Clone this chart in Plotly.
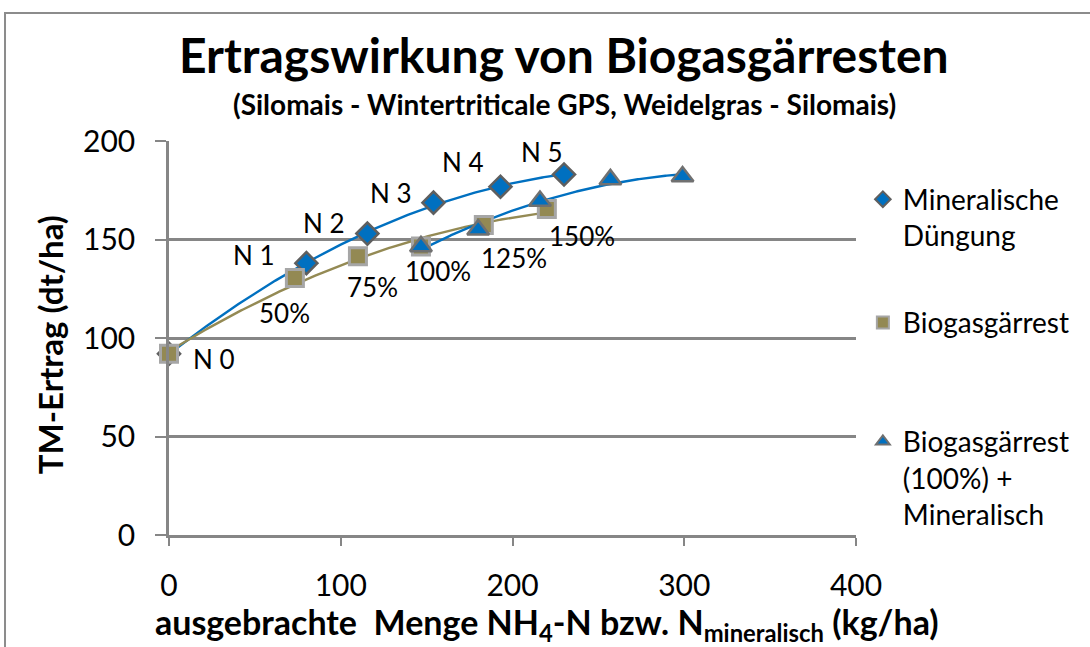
import numpy as np
import plotly.graph_objects as go

# ---- data ----
min_x = [0, 80, 115.5, 154, 193, 230]
min_y = [92, 138, 153, 168.7, 176.8, 183]
min_labels = ["N 0", "N 1", "N 2", "N 3", "N 4", "N 5"]

bio_x = [0, 73.3, 110, 146.7, 183.3, 220]
bio_y = [92, 130.5, 141.5, 146.5, 157.4, 165.5]
bio_labels = ["", "50%", "75%", "100%", "125%", "150%"]

mix_x = [146.7, 180, 216, 257, 299]
mix_y = [146.5, 155, 169.5, 180.5, 182]

series_names = ["Mineralische<br>Düngung", "Biogasgärrest", "Biogasgärrest<br>(100%) +<br>Mineralisch"]
x_ticks = [0, 100, 200, 300, 400]
y_ticks = [0, 50, 100, 150, 200]
x_title = "<b>ausgebrachte  Menge NH<sub>4</sub>-N bzw. N<sub>mineralisch</sub> (kg/ha)</b>"
y_title = "<b>TM-Ertrag (dt/ha)</b>"

# ---- style ----
FONT = "Lato, 'Open Sans', sans-serif"
BLUE = "#0070C0"
OLIVE = "#948A54"
GRAY = "#868686"

# label pixel offsets (style)
min_shift = [(45, -5), (-52, 8), (-43, 11), (-43, 10), (-37, 25), (-22, 22)]
bio_shift = [(0, 0), (-10, -35), (15, -31), (17, -25), (30, -33), (35, -27)]

fig = go.Figure()


def trend(xs, ys, color):
    c = np.polyfit(xs, ys, 2)
    xx = np.linspace(min(xs), max(xs), 200)
    fig.add_trace(go.Scatter(x=xx, y=np.polyval(c, xx), mode="lines",
                             line=dict(color=color, width=2.4),
                             showlegend=False, hoverinfo="skip"))


trend(min_x, min_y, BLUE)
trend(bio_x, bio_y, OLIVE)
trend(mix_x, mix_y, BLUE)

fig.add_trace(go.Scatter(x=min_x, y=min_y, mode="markers", name=series_names[0],
                         legend="legend", cliponaxis=False,
                         marker=dict(symbol="diamond", size=17, color=BLUE,
                                     line=dict(color="#5f5f5f", width=2.5))))
fig.add_trace(go.Scatter(x=bio_x, y=bio_y, mode="markers", name=series_names[1],
                         legend="legend2", cliponaxis=False,
                         marker=dict(symbol="square", size=17, color="#938953",
                                     line=dict(color="#A6A6A6", width=3))))
fig.add_trace(go.Scatter(x=mix_x, y=mix_y, mode="markers", name=series_names[2],
                         legend="legend3", cliponaxis=False,
                         marker=dict(symbol="triangle-up", size=19, color=BLUE,
                                     line=dict(color="#707070", width=2.5))))

annotations = []
for x, y, t, (dx, dy) in zip(min_x, min_y, min_labels, min_shift):
    annotations.append(dict(x=x, y=y, text=t, showarrow=False, xshift=dx, yshift=dy,
                            font=dict(family=FONT, size=26, color="black")))
for x, y, t, (dx, dy) in zip(bio_x, bio_y, bio_labels, bio_shift):
    if t:
        annotations.append(dict(x=x, y=y, text=t, showarrow=False, xshift=dx, yshift=dy,
                                font=dict(family=FONT, size=26, color="black")))

annotations.append(dict(xref="paper", yref="paper", x=0.575, y=1.0, yshift=117,
                        text="<b>Ertragswirkung von Biogasgärresten</b>", showarrow=False,
                        font=dict(family=FONT, size=48, color="black")))
annotations.append(dict(xref="paper", yref="paper", x=0.575, y=1.0, yshift=56,
                        text="<b>(Silomais - Wintertriticale GPS, Weidelgras - Silomais)</b>",
                        showarrow=False, font=dict(family=FONT, size=28, color="black")))
annotations.append(dict(xref="paper", yref="paper", x=0.550, y=-0.225,
                        xanchor="center", yanchor="middle",
                        text=x_title, showarrow=False,
                        font=dict(family=FONT, size=34, color="black")))
annotations.append(dict(xref="paper", yref="paper", x=-0.173, y=0.482, textangle=-90,
                        xanchor="center", yanchor="middle",
                        text=y_title, showarrow=False,
                        font=dict(family=FONT, size=33, color="black")))

leg_common = dict(x=1.01, xanchor="left", yanchor="top", valign="top",
                  font=dict(family=FONT, size=28, color="black"),
                  itemsizing="constant", bgcolor="rgba(0,0,0,0)")

fig.update_layout(
    width=1090, height=647, autosize=False,
    margin=dict(l=169, r=234, t=141, b=112),
    paper_bgcolor="white", plot_bgcolor="white",
    font=dict(family=FONT, color="black"),
    annotations=annotations,
    showlegend=True,
    legend=dict(y=0.915, **leg_common),
    legend2=dict(y=0.602, **leg_common),
    legend3=dict(y=0.300, **leg_common),
    xaxis=dict(range=[0, 400], tickvals=x_ticks, showgrid=False, zeroline=False,
               automargin=False,
               showline=True, linecolor=GRAY, linewidth=2.5,
               ticks="outside", ticklen=8, tickwidth=2, tickcolor=GRAY,
               ticklabelstandoff=14,
               tickfont=dict(family=FONT, size=30, color="black")),
    yaxis=dict(range=[0, 200], tickvals=y_ticks, showgrid=True, gridcolor=GRAY, gridwidth=2.5,
               zeroline=False, automargin=False,
               showline=True, linecolor=GRAY, linewidth=2.5,
               ticks="outside", ticklen=11, tickwidth=2, tickcolor=GRAY,
               ticklabelstandoff=14,
               tickfont=dict(family=FONT, size=30, color="black")),
    shapes=[dict(type="rect", xref="paper", yref="paper",
                 x0=-0.2387, x1=1.36, y0=-0.3, y1=1.325,
                 line=dict(color="#8c8c8c", width=2), layer="below")],
)

fig.write_html("out.html", config={"displayModeBar": False},
               post_script="document.body.style.margin='0';")
